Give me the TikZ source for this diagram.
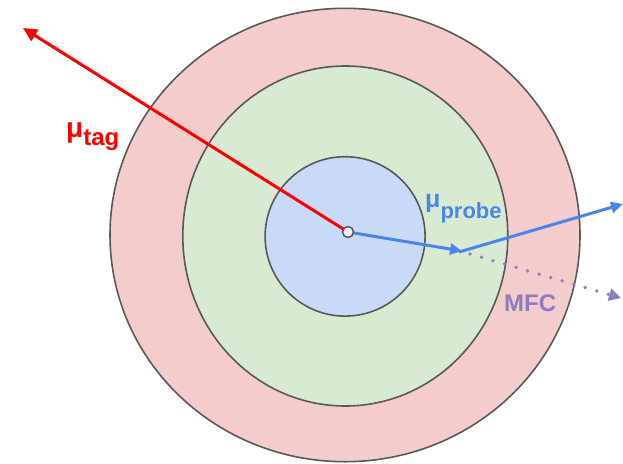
\documentclass[tikz,border=0pt]{standalone}
\usepackage{fontspec}
\setmainfont{Liberation Sans}
\usetikzlibrary{arrows.meta}
\definecolor{tagred}{HTML}{FF0000}
\definecolor{probeblue}{HTML}{4A86E8}
\definecolor{mfcpurple}{HTML}{8E7CC3}
\definecolor{ringpink}{HTML}{F4CCCC}
\definecolor{ringgreen}{HTML}{D9EAD3}
\definecolor{ringblue}{HTML}{C9DAF8}
\definecolor{edgegray}{HTML}{595959}
\tikzset{
  ring/.style={draw=edgegray, line width=1.6pt},
  tagarrow/.style={draw=tagred, line width=3pt, -{Triangle[length=14pt,width=13pt]}},
  probearrow/.style={draw=probeblue, line width=3pt, -{Triangle[length=12pt,width=11pt]}},
  mfcarrow/.style={draw=mfcpurple, line width=3.8pt, line cap=round, dash pattern=on 0pt off 12pt, -{Triangle[length=12pt,width=12pt]}},
  lbl/.style={inner sep=0pt, anchor=base west, font=\bfseries},
  vertexdot/.style={circle, draw=edgegray, fill=white!93!black, line width=1.5pt, minimum size=11pt, inner sep=0pt}
}
\begin{document}
\begin{tikzpicture}[x=1pt,y=-1pt]
\useasboundingbox (0,0) rectangle (623,463);
% rings
\fill[ringpink] (345,235) ellipse [x radius=235, y radius=226.7];
\draw[ring] (345,235) ellipse [x radius=235, y radius=226.7];
\fill[ringgreen] (345.3,236) ellipse [x radius=162.5, y radius=170];
\draw[ring] (345.3,236) ellipse [x radius=162.5, y radius=170];
\fill[ringblue] (345.1,236.4) ellipse [x radius=80, y radius=79.7];
\draw[ring] (345.1,236.4) ellipse [x radius=80, y radius=79.7];
% vertex
\coordinate (v) at (348,232);
\coordinate (tagend) at (23,28);
\coordinate (kink) at (462,251);
\coordinate (probeend) at (623,204);
\coordinate (mfcend) at (621,298);
\draw[tagarrow] (v) -- (tagend);
\draw[probearrow] (v) -- (kink);
\draw[probearrow] (459,252) -- (probeend);
\draw[mfcarrow] (470,254) -- (mfcend);
\node[vertexdot] (dot) at (v) {};
% labels
\node[lbl, text=tagred] (mutag) at (66,137) {\fontsize{28}{30}\selectfont μ\raisebox{-8pt}{\fontsize{24}{26}\selectfont tag}};
\node[lbl, text=probeblue] (muprobe) at (425,207) {\fontsize{25}{28}\selectfont μ\raisebox{-11pt}{\fontsize{22}{24}\selectfont probe}};
\node[lbl, text=mfcpurple] (mfc) at (504,311) {\fontsize{24}{26}\selectfont MFC};
\end{tikzpicture}
\end{document}
